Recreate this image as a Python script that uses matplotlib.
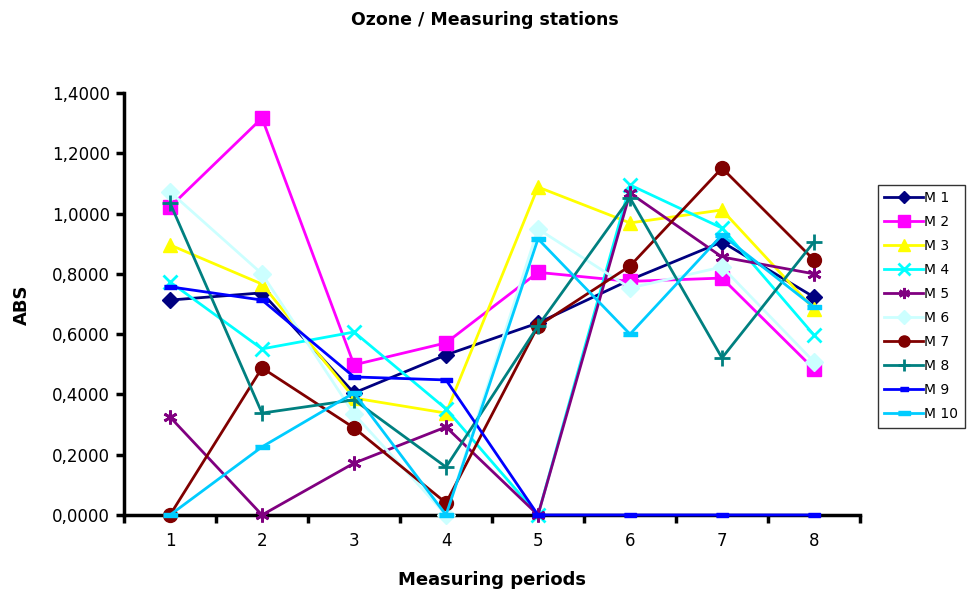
import numpy as np
import matplotlib
matplotlib.use("Agg")
import matplotlib.pyplot as plt
from matplotlib.ticker import FuncFormatter, FixedLocator

periods = [1, 2, 3, 4, 5, 6, 7, 8]

m1 = [0.713, 0.737, 0.405, 0.531, 0.637, 0.780, 0.906, 0.723]
m2 = [1.022, 1.317, 0.498, 0.571, 0.805, 0.775, 0.786, 0.484]
m3 = [0.896, 0.766, 0.388, 0.338, 1.088, 0.969, 1.012, 0.683]
m4 = [0.773, 0.551, 0.607, 0.352, 0.000, 1.095, 0.952, 0.597]
m5 = [0.325, 0.000, 0.172, 0.292, 0.000, 1.068, 0.856, 0.800]
m6 = [1.072, 0.800, 0.335, 0.000, 0.949, 0.753, 0.823, 0.508]
m7 = [0.000, 0.488, 0.289, 0.040, 0.627, 0.826, 1.151, 0.846]
m8 = [1.035, 0.338, 0.382, 0.159, 0.627, 1.052, 0.521, 0.906]
m9 = [0.757, 0.713, 0.458, 0.448, 0.000, 0.000, 0.000, 0.000]
m10 = [0.000, 0.226, 0.405, 0.000, 0.916, 0.600, 0.929, 0.690]

names = ["M 1", "M 2", "M 3", "M 4", "M 5", "M 6", "M 7", "M 8", "M 9", "M 10"]
series = [m1, m2, m3, m4, m5, m6, m7, m8, m9, m10]

# farby i znaczniki jak w Excelu
colors = ["#000080", "#FF00FF", "#FFFF00", "#00FFFF", "#800080",
          "#CCFFFF", "#800000", "#008080", "#0000FF", "#00CCFF"]
dash_short = [(-1, -0.35), (1, -0.35), (1, 0.35), (-1, 0.35)]
dash_long = [(-1, -0.3), (1, -0.3), (1, 0.3), (-1, 0.3)]
markers = ["D", "s", "^", "x", (6, 2, 0), "D", "o", "+", dash_short, dash_long]
sizes = [8, 10, 10, 10, 10, 9, 10, 11, 8, 10]

fig = plt.figure(figsize=(9.69, 5.97), dpi=100)
ax = fig.add_axes([0.128, 0.1374, 0.7595, 0.7068])

for vals, name, c, m, s in zip(series, names, colors, markers, sizes):
    ax.plot(periods, vals, color=c, marker=m, markersize=s, markerfacecolor=c,
            markeredgecolor=c, markeredgewidth=2 if m in ("x", "+") or isinstance(m, tuple) else 1,
            linewidth=2, label=name, clip_on=False, zorder=3)

ax.set_xlim(0.5, 8.5)
ax.set_ylim(0, 1.4)
ax.set_yticks(np.arange(0, 1.41, 0.2))
ax.yaxis.set_major_formatter(FuncFormatter(lambda v, p: f"{v:.4f}".replace(".", ",")))
ax.set_xticks(periods)
ax.xaxis.set_minor_locator(FixedLocator(np.arange(0.5, 8.6, 1)))
ax.tick_params(axis="x", which="major", length=0, pad=12, labelsize=12)
ax.tick_params(axis="x", which="minor", length=6, width=2.5, direction="out")
ax.tick_params(axis="y", length=6, width=2.5, direction="out", labelsize=12, pad=4)

for side in ("top", "right"):
    ax.spines[side].set_visible(False)
for side in ("left", "bottom"):
    ax.spines[side].set_linewidth(2.5)

fig.text(0.5, 0.966, "Ozone / Measuring stations", ha="center", va="center",
         fontsize=12.5, fontweight="bold")
fig.text(0.508, 0.028, "Measuring periods", ha="center", va="center",
         fontsize=13, fontweight="bold")
fig.text(0.023, 0.489, "ABS", ha="center", va="center", rotation=90,
         fontsize=13, fontweight="bold")

leg = ax.legend(loc="upper left", bbox_to_anchor=(0.906, 0.69),
                bbox_transform=fig.transFigure, fontsize=10, frameon=True,
                fancybox=False, edgecolor="black", handlelength=2.8,
                labelspacing=0.72, borderpad=0.45, handletextpad=0.1,
                markerscale=0.8, borderaxespad=0)
leg.get_frame().set_linewidth(1)

plt.savefig("out.png", dpi=100)
